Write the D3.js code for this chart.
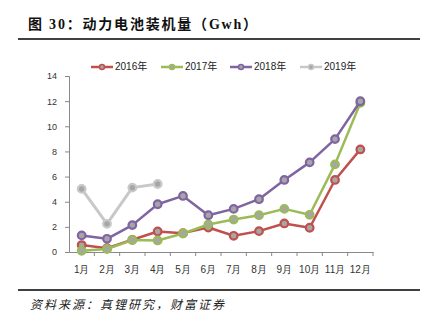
<!DOCTYPE html>
<html>
<head>
<meta charset="utf-8">
<script src="https://cdn.jsdelivr.net/npm/d3@7"></script>
<style>
body { margin: 0; background: #fff; }
</style>
</head>
<body>
<div id="canvas"></div>
<script>
"use strict"
let svgWidth = 432;
let svgHeight = 328;

let marginLeft = 69;
let marginRight = 59;
let marginTop = 76;
let marginBottom = 76;

let months = ["1月","2月","3月","4月","5月","6月","7月","8月","9月","10月","11月","12月"];
let seriesNames = ["2016年","2017年","2018年","2019年"];
let seriesColors = ["#c0504d","#9bbb59","#8064a2","#c8c8c8"];
let yTicks = [0,2,4,6,8,10,12,14];

let values2016 = [0.55,0.3,0.97,1.63,1.5,1.95,1.29,1.66,2.27,1.93,5.73,8.16];
let values2017 = [0.1,0.24,0.95,0.92,1.47,2.19,2.58,2.93,3.43,2.96,6.97,11.86];
let values2018 = [1.32,1.05,2.14,3.8,4.46,2.93,3.43,4.2,5.73,7.13,8.98,11.99];
let values2019 = [5.02,2.24,5.12,5.41];

let allSeries = [values2016, values2017, values2018, values2019];

let svg = d3.select("#canvas")
    .append("svg")
    .attr("width", svgWidth)
    .attr("height", svgHeight);

// title + rules
svg.append("text")
    .attr("x", 28)
    .attr("y", 29)
    .attr("font-family", "Liberation Serif, Noto Sans CJK SC")
    .attr("font-weight", "bold")
    .attr("font-size", 14)
    .attr("letter-spacing", 1.8)
    .attr("fill", "#111")
    .text("图 30：动力电池装机量（Gwh）");

svg.append("line")
    .attr("x1", 18).attr("x2", 420)
    .attr("y1", 39).attr("y2", 39)
    .attr("stroke", "#000")
    .attr("stroke-width", 1.5);

svg.append("line")
    .attr("x1", 18).attr("x2", 420)
    .attr("y1", 290).attr("y2", 290)
    .attr("stroke", "#000")
    .attr("stroke-width", 1.5);

svg.append("text")
    .attr("x", 30)
    .attr("y", 309)
    .attr("font-family", "Noto Sans CJK SC")
    .attr("font-style", "italic")
    .attr("font-size", 12)
    .attr("letter-spacing", 2)
    .attr("fill", "#222")
    .text("资料来源：真锂研究，财富证券");

let xScale = d3.scaleBand()
    .domain(months)
    .range([marginLeft, svgWidth - marginRight]);

let yScale = d3.scaleLinear()
    .domain([0, 14])
    .range([svgHeight - marginBottom, marginTop]);

// y axis
let yAxis = svg.append("g")
    .attr("transform", "translate(" + marginLeft + ",0)")
    .call(d3.axisLeft(yScale).tickValues(yTicks).tickSize(4).tickPadding(8));

// x axis: ticks on category borders
let xAxis = svg.append("g")
    .attr("transform", "translate(0," + (svgHeight - marginBottom) + ")")
    .call(d3.axisBottom(xScale).tickSize(0).tickPadding(14));

let borders = months.map(function(m) { return xScale(m); }).concat([xScale.range()[1]]);
xAxis.selectAll(".border")
    .data(borders.slice(1))
    .join("line")
    .attr("x1", function(d) { return d; })
    .attr("x2", function(d) { return d; })
    .attr("y1", 0)
    .attr("y2", 4)
    .attr("stroke", "#888");

svg.selectAll(".domain").attr("stroke", "#888");
yAxis.selectAll(".tick line").attr("stroke", "#888");
svg.selectAll(".tick text")
    .attr("font-family", "Liberation Sans, Arial")
    .attr("font-size", 9)
    .attr("fill", "#333");
xAxis.selectAll(".tick text").attr("font-size", 10);

let line = d3.line()
    .x(function(d, i) { return xScale(months[i]) + xScale.bandwidth() / 2; })
    .y(function(d) { return yScale(d); });

// draw 2019 first so it sits behind
let order = [3, 0, 1, 2];
for (let k = 0; k < order.length; k++) {
    let s = order[k];
    let g = svg.append("g");
    g.append("path")
        .datum(allSeries[s])
        .attr("d", line)
        .attr("fill", "none")
        .attr("stroke", seriesColors[s])
        .attr("stroke-width", s == 3 ? 3 : 2.5)
        .attr("stroke-linejoin", "round");
    g.selectAll("circle")
        .data(allSeries[s])
        .join("circle")
        .attr("cx", function(d, i) { return xScale(months[i]) + xScale.bandwidth() / 2; })
        .attr("cy", function(d) { return yScale(d); })
        .attr("r", 3.8)
        .attr("fill", "#a6a6a6")
        .attr("stroke", seriesColors[s])
        .attr("stroke-width", 2.2);
}

// legend
let legendX = [91, 161, 230, 300];
let legendY = 67;
for (let i = 0; i < seriesNames.length; i++) {
    svg.append("line")
        .attr("x1", legendX[i]).attr("x2", legendX[i] + 22)
        .attr("y1", legendY).attr("y2", legendY)
        .attr("stroke", seriesColors[i])
        .attr("stroke-width", 2.5);
    svg.append("circle")
        .attr("cx", legendX[i] + 11)
        .attr("cy", legendY)
        .attr("r", 2.5)
        .attr("fill", "#a6a6a6")
        .attr("stroke", seriesColors[i])
        .attr("stroke-width", 1.5);
    svg.append("text")
        .attr("x", legendX[i] + 24)
        .attr("y", legendY)
        .attr("dominant-baseline", "middle")
        .attr("font-family", "Liberation Sans, Arial, Noto Sans CJK SC")
        .attr("font-size", 10)
        .attr("fill", "#222")
        .text(seriesNames[i]);
}
</script>
</body>
</html>
